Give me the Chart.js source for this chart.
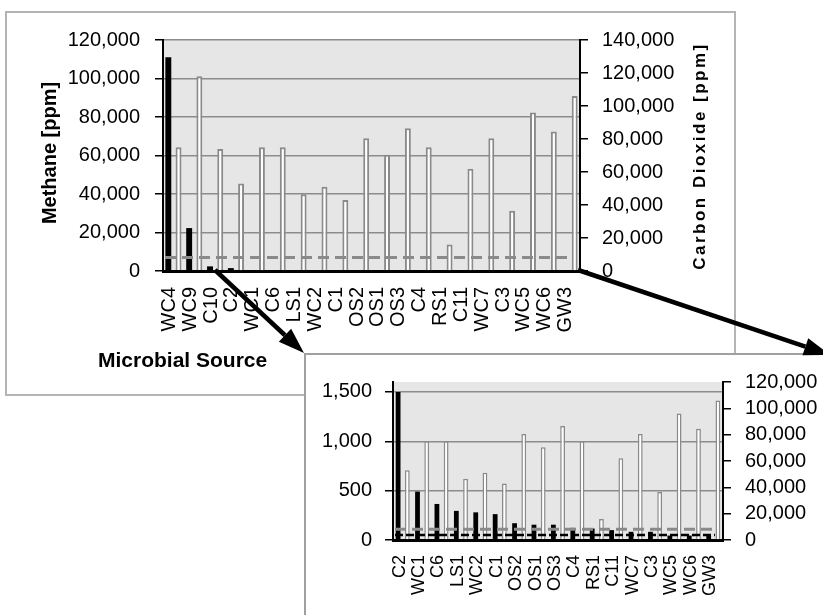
<!DOCTYPE html>
<html lang="en">
<head>
<meta charset="UTF-8">
<title>Methane and carbon dioxide by microbial source</title>
<script src="https://cdn.jsdelivr.net/npm/chart.js@4.4.1/dist/chart.umd.min.js"></script>
<style>
  body { margin: 0; background: #fff; width: 823px; height: 615px; overflow: hidden; position: relative; }
  .frame { position: absolute; box-sizing: border-box; border: 2px solid #b4b4b4; background: #fff; }
  #mainFrame { left: 5px; top: 11px; width: 731px; height: 385px; }
  #insetFrame { left: 304px; top: 353px; width: 560px; height: 300px; border-color: #a0a0a0; }
  canvas { position: absolute; }
  #mainChart { left: 7px; top: 13px; }
  #insetChart { left: 307px; top: 356px; }
  #arrows { left: 0; top: 0; pointer-events: none; }
</style>
</head>
<body>
<div class="frame" id="mainFrame"></div>
<canvas id="mainChart" width="726" height="380"></canvas>
<div class="frame" id="insetFrame"></div>
<canvas id="insetChart" width="516" height="259"></canvas>
<canvas id="arrows" width="823" height="615"></canvas>

<script>
    // values
    const categories = ['WC4', 'WC9', 'C10', 'C2', 'WC1', 'C6', 'LS1', 'WC2', 'C1', 'OS2',
        'OS1', 'OS3', 'C4', 'RS1', 'C11', 'WC7', 'C3', 'WC5', 'WC6', 'GW3'];
    const methane = [111000, 22300, 2400, 1500, 490, 365, 295, 280, 262, 170,
        155, 155, 123, 116, 100, 83, 83, 45, 45, 45];
    const co2 = [75000, 118000, 74000, 53000, 75000, 75000, 46500, 51000, 43000, 80500,
        70500, 86500, 75000, 16000, 62000, 80500, 36500, 96000, 84500, 106000];
    const co2Ref = 8200;     // grey dashed line (CO2 axis)
    const methaneRef = 50;   // black dashed line (methane axis), only visible in the zoom
    const insetFrom = 3;     // zoomed panel starts at C2

    const mainLeftTicks = [0, 20000, 40000, 60000, 80000, 100000, 120000];
    const mainRightTicks = [0, 20000, 40000, 60000, 80000, 100000, 120000, 140000];
    const insetLeftTicks = [0, 500, 1000, 1500];
    const insetRightTicks = [0, 20000, 40000, 60000, 80000, 100000, 120000];

    const FONT = '"Liberation Sans", Arial, sans-serif';

    const plotBg = {
        id: 'plotBg',
        beforeDraw(chart) {
            const a = chart.chartArea, ctx = chart.ctx;
            ctx.save();
            ctx.fillStyle = '#e6e6e6';
            ctx.fillRect(a.left, a.top, a.right - a.left, a.bottom - a.top);
            ctx.restore();
        }
    };

    function refLines(lines) {
        return {
            id: 'refLines',
            afterDatasetsDraw(chart) {
                const a = chart.chartArea, ctx = chart.ctx;
                lines.forEach(function (l) {
                    const y = chart.scales[l.axis].getPixelForValue(l.value);
                    ctx.save();
                    ctx.strokeStyle = l.color;
                    ctx.lineWidth = l.width;
                    ctx.setLineDash(l.dash);
                    ctx.beginPath();
                    ctx.moveTo(a.left + 2, y);
                    ctx.lineTo(a.right - 8, y);
                    ctx.stroke();
                    ctx.restore();
                });
            }
        };
    }

    const mainTitles = {
        id: 'mainTitles',
        afterDraw(chart) {
            const ctx = chart.ctx;
            ctx.save();
            ctx.fillStyle = '#000';
            ctx.textAlign = 'center';
            ctx.textBaseline = 'middle';
            ctx.font = 'bold 20px ' + FONT;
            ctx.translate(43, 140);
            ctx.rotate(-Math.PI / 2);
            ctx.fillText('Methane [ppm]', 0, 0);
            ctx.restore();

            ctx.save();
            ctx.fillStyle = '#000';
            ctx.textAlign = 'center';
            ctx.textBaseline = 'middle';
            ctx.font = 'bold 17px ' + FONT;
            ctx.letterSpacing = '2.5px';
            ctx.translate(693, 143);
            ctx.rotate(-Math.PI / 2);
            ctx.fillText('Carbon Dioxide [ppm]', 0, 0);
            ctx.restore();

            ctx.save();
            ctx.fillStyle = '#000';
            ctx.textAlign = 'left';
            ctx.textBaseline = 'alphabetic';
            ctx.font = 'bold 21px ' + FONT;
            ctx.fillText('Microbial Source', 91, 354);
            ctx.restore();
        }
    };

    function yScale(pos, max, tickList, width, pad, onArea) {
        return {
            position: pos,
            min: 0,
            max: max,
            afterBuildTicks(s) { s.ticks = tickList.map(v => ({ value: v })); },
            ticks: { color: '#000', font: { family: FONT, size: 20 }, padding: pad, autoSkip: false },
            grid: {
                drawOnChartArea: onArea, color: '#8c8c8c', lineWidth: 1.5,
                tickColor: '#000', tickLength: 8, tickWidth: 1.5
            },
            border: { color: '#000', width: 2 },
            afterFit(s) { s.width = width; }
        };
    }

    function xScale(height, size, pad, shift) {
        return {
            grid: { display: false, drawTicks: false },
            border: { color: '#000', width: 3 },
            ticks: {
                color: '#000', font: { family: FONT, size: size },
                minRotation: 90, maxRotation: 90, autoSkip: false, padding: pad, labelOffset: shift
            },
            afterFit(s) { s.height = height; }
        };
    }

    function barSets(ch4, cd, catPct, barPct, bw) {
        return [{
            label: 'Methane', data: ch4, yAxisID: 'yCH4',
            backgroundColor: '#000', borderWidth: 0,
            categoryPercentage: catPct, barPercentage: barPct
        }, {
            label: 'Carbon Dioxide', data: cd, yAxisID: 'yCO2',
            backgroundColor: '#fff', borderColor: '#8a8a8a', borderWidth: bw,
            categoryPercentage: catPct, barPercentage: barPct
        }];
    }

    // main chart
    new Chart(document.getElementById('mainChart'), {
        type: 'bar',
        data: { labels: categories, datasets: barSets(methane, co2, 0.98, 0.58, 2) },
        options: {
            responsive: false, animation: false, devicePixelRatio: 1, locale: 'en-US',
            layout: { padding: { top: 22, left: 0, right: 0, bottom: 0 } },
            plugins: { legend: { display: false }, tooltip: { enabled: false } },
            scales: {
                x: xScale(122, 20, 16, -4),
                yCH4: yScale('left', 120000, mainLeftTicks, 156, 15, true),
                yCO2: yScale('right', 140000, mainRightTicks, 153, 14, false)
            }
        },
        plugins: [plotBg, refLines([
            { axis: 'yCO2', value: co2Ref, color: '#8a8a8a', width: 3, dash: [11, 6] },
            { axis: 'yCH4', value: methaneRef, color: '#000', width: 2, dash: [8, 3] }
        ]), mainTitles]
    });

    // zoomed inset
    new Chart(document.getElementById('insetChart'), {
        type: 'bar',
        data: {
            labels: categories.slice(insetFrom),
            datasets: barSets(methane.slice(insetFrom), co2.slice(insetFrom), 0.95, 0.52, 1.5)
        },
        options: {
            responsive: false, animation: false, devicePixelRatio: 1, locale: 'en-US',
            layout: { padding: { top: 23, left: 0, right: 0, bottom: 0 } },
            plugins: { legend: { display: false }, tooltip: { enabled: false } },
            scales: {
                x: xScale(75, 18, 15, -3),
                yCH4: yScale('left', 1600, insetLeftTicks, 86, 13, true),
                yCO2: yScale('right', 120000, insetRightTicks, 100, 14, false)
            }
        },
        plugins: [plotBg, refLines([
            { axis: 'yCO2', value: co2Ref, color: '#8a8a8a', width: 3, dash: [11, 6] },
            { axis: 'yCH4', value: methaneRef, color: '#000', width: 2.5, dash: [8, 3] }
        ])]
    });

    // callout arrows
    function arrow(ctx, x1, y1, x2, y2, w, headLen, headW) {
        const ang = Math.atan2(y2 - y1, x2 - x1);
        const bx = x2 - headLen * Math.cos(ang), by = y2 - headLen * Math.sin(ang);
        ctx.lineWidth = w;
        ctx.beginPath();
        ctx.moveTo(x1, y1);
        ctx.lineTo(bx, by);
        ctx.stroke();
        ctx.beginPath();
        ctx.moveTo(x2, y2);
        ctx.lineTo(bx + headW / 2 * Math.sin(ang), by - headW / 2 * Math.cos(ang));
        ctx.lineTo(bx - headW / 2 * Math.sin(ang), by + headW / 2 * Math.cos(ang));
        ctx.closePath();
        ctx.fill();
    }
    const actx = document.getElementById('arrows').getContext('2d');
    actx.strokeStyle = '#000';
    actx.fillStyle = '#000';
    arrow(actx, 215, 270, 304, 353, 4.5, 26, 18);
    arrow(actx, 578, 270, 830, 355, 4.5, 26, 18);
</script>
</body>
</html>
